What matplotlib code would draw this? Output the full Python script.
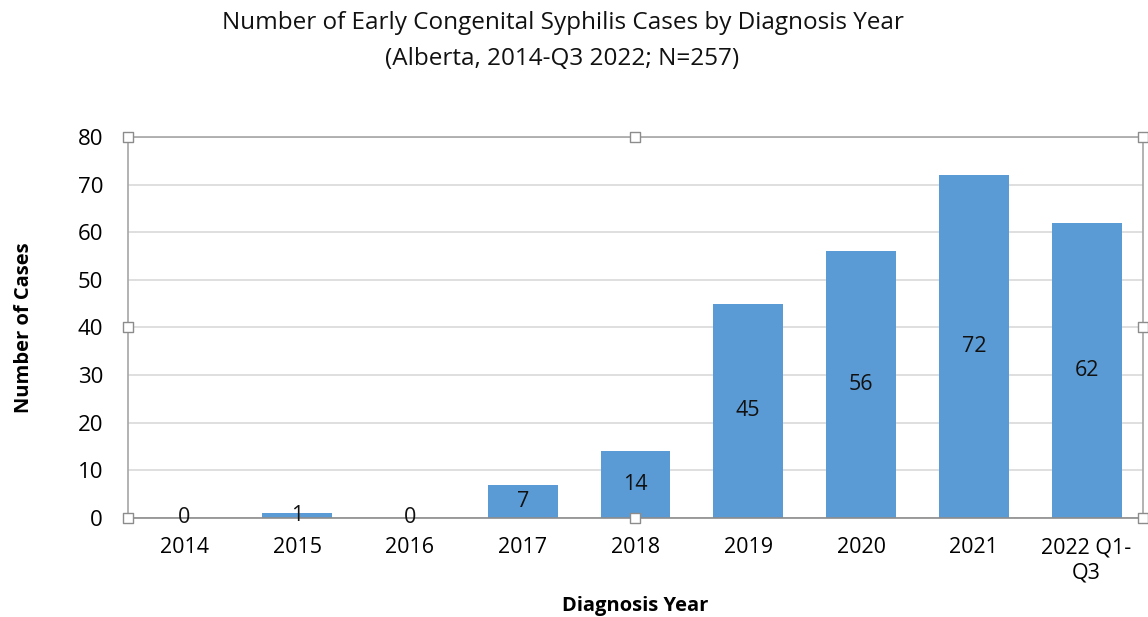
import matplotlib
matplotlib.use("Agg")
import matplotlib.pyplot as plt

categories = ["2014", "2015", "2016", "2017", "2018", "2019", "2020", "2021", "2022 Q1-\nQ3"]
cases = [0, 1, 0, 7, 14, 45, 56, 72, 62]
y_ticks = [0, 10, 20, 30, 40, 50, 60, 70, 80]

plt.rcParams['font.family'] = ['Open Sans', 'DejaVu Sans']

fig = plt.figure(figsize=(11.48, 6.17), dpi=100)
ax = fig.add_axes([0.1115, 0.1605, 0.8841, 0.6175])

x = list(range(len(categories)))
bars = ax.bar(x, cases, width=0.62, color="#5B9BD5", zorder=2)
for xi, v in zip(x, cases):
    ax.text(xi, v / 2, str(v), ha="center", va="center", fontsize=15.5, color="#111111", zorder=3)

ax.set_xlim(-0.5, len(categories) - 0.5)
ax.set_ylim(0, 80)
ax.set_yticks(y_ticks)
ax.set_xticks(x)
ax.set_xticklabels(categories, fontsize=15.5, linespacing=1.25)
ax.tick_params(axis="y", labelsize=16, length=0, pad=18)
ax.tick_params(axis="x", length=0, pad=14)
ax.yaxis.grid(True, color="#d9d9d9", linewidth=1.2, zorder=0)
ax.set_axisbelow(True)
for s in ["top", "left", "right"]:
    ax.spines[s].set_color("#a6a6a6")
    ax.spines[s].set_linewidth(1.2)
ax.spines["bottom"].set_color("#8c8c8c")
ax.spines["bottom"].set_linewidth(1.2)

ax.set_ylabel("Number of Cases", fontsize=14.5, fontweight="bold")
ax.set_xlabel("Diagnosis Year", fontsize=14.5, fontweight="bold")
ax.xaxis.set_label_coords(0.5, -0.205)
ax.yaxis.set_label_coords(-0.093, 0.5)

# selection handles
hx = [0, 0.5, 1, 0, 1, 0, 0.5, 1]
hy = [1, 1, 1, 0.5, 0.5, 0, 0, 0]
ax.scatter(hx, hy, marker="s", s=55, facecolor="white", edgecolor="#8c8c8c",
           linewidth=1, transform=ax.transAxes, clip_on=False, zorder=5)

fig.text(0.49, 0.962, "Number of Early Congenital Syphilis Cases by Diagnosis Year",
         ha="center", va="center", fontsize=17.5, color="#111111")
fig.text(0.49, 0.905, "(Alberta, 2014-Q3 2022; N=257)",
         ha="center", va="center", fontsize=17.5, color="#111111")

fig.savefig("out.png", dpi=100)
